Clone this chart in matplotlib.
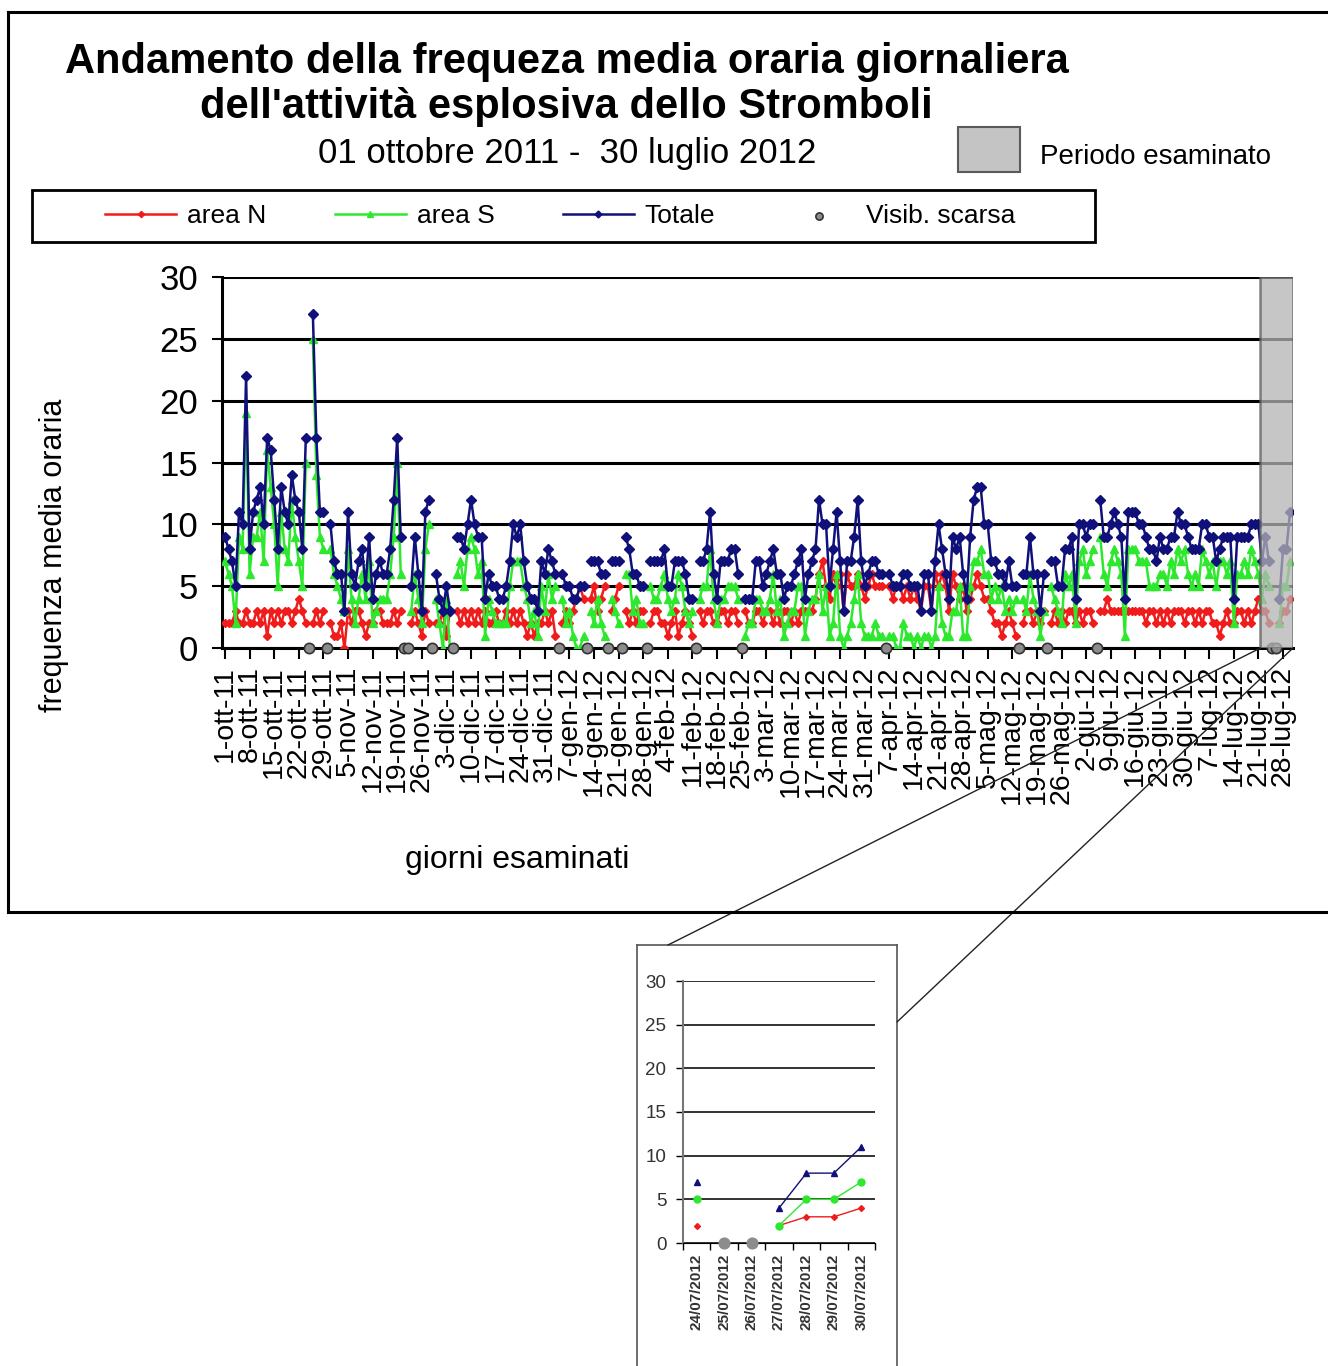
import numpy as np
import matplotlib.pyplot as plt
from matplotlib.patches import Rectangle, ConnectionPatch
from matplotlib.lines import Line2D

plt.rcParams['font.family'] = ['Liberation Sans', 'DejaVu Sans']

# frequenza media oraria giornaliera, 01/10/2011 - 30/07/2012 (None = visibilita' scarsa)
area_n = [2, 2, 2, 3, 2, 2, 3, 2, 2, 3,
          2, 3, 1, 3, 2, 3, 2, 3, 3, 2,
          3, 4, 3, 2, None, 2, 3, 2, 3, None,
          2, 1, 1, 2, 0, 3, 2, 3, 3, 2,
          1, 2, 2, 3, 3, 2, 2, 2, 3, 2,
          3, None, None, 2, 3, 2, 1, 3, 2, None,
          2, 2, 3, 1, 3, None, 3, 2, 3, 2,
          3, 2, 3, 2, 3, 2, 2, 3, 2, 2,
          3, 2, 3, 2, 3, 2, 1, 2, 1, 2,
          2, 3, 2, 3, 1, None, 2, 3, 2, 3,
          4, 5, 4, None, 4, 5, 3, 4, 5, None,
          3, 4, 5, None, 3, 2, 3, 2, 3, 3,
          None, 2, 3, 3, 2, 2, 1, 2, 3, 1,
          2, 3, 2, 1, None, 3, 2, 3, 3, 2,
          2, 3, 3, 2, 3, 3, 2, None, 3, 2,
          2, 3, 3, 2, 3, 3, 2, 3, 2, 3,
          3, 2, 3, 2, 3, 3, 3, 3, 4, 6,
          7, 5, 4, 6, 5, 6, 3, 6, 5, 5,
          6, 5, 4, 5, 6, 5, 5, 5, None, 5,
          4, 5, 5, 4, 5, 4, 5, 4, 3, 5,
          5, 3, 6, 5, 6, 5, 3, 6, 5, 4,
          5, 3, 4, 5, 6, 5, 4, 4, 3, 2,
          2, 1, 2, 3, 2, 1, None, 2, 3, 3,
          2, 3, 2, 3, None, 2, 3, 2, 3, 2,
          3, 3, 2, 3, 2, 3, 3, 2, None, 3,
          3, 4, 3, 3, 3, 3, 3, 3, 3, 3,
          3, 3, 2, 3, 3, 2, 3, 2, 3, 2,
          3, 3, 3, 2, 3, 3, 2, 3, 2, 3,
          3, 2, 2, 1, 2, 3, 2, 2, 3, 3,
          2, 3, 2, 3, 4, 3, 3, 2, None, None,
          2, 3, 3, 4]

area_s = [7, 6, 5, 2, 9, 8, 19, 6, 9, 9,
          11, 7, 16, 13, 10, 5, 11, 8, 7, 12,
          9, 7, 5, 15, None, 25, 14, 9, 8, None,
          8, 6, 5, 4, 3, 8, 4, 2, 4, 6,
          4, 7, 2, 3, 4, 4, 4, 6, 9, 15,
          6, None, None, 3, 6, 4, 2, 8, 10, None,
          4, 2, 0, 4, 0, None, 6, 7, 5, 8,
          9, 8, 6, 7, 1, 4, 3, 2, 2, 2,
          2, 5, 7, 7, 7, 5, 4, 2, 3, 1,
          5, 3, 6, 4, 5, None, 4, 2, 3, 1,
          0, 0, 1, None, 3, 2, 4, 2, 1, None,
          4, 3, 2, None, 6, 6, 3, 4, 2, 2,
          None, 5, 4, 4, 5, 6, 4, 3, 4, 6,
          5, 3, 2, 3, None, 4, 5, 5, 8, 4,
          2, 4, 4, 5, 5, 5, 4, None, 1, 2,
          2, 4, 4, 3, 3, 4, 6, 3, 4, 1,
          2, 3, 3, 5, 5, 1, 3, 4, 4, 6,
          3, 5, 1, 2, 6, 1, 0, 1, 2, 4,
          6, 2, 1, 1, 1, 2, 1, 1, None, 1,
          1, 0, 0, 2, 1, 1, 0, 1, 0, 1,
          1, 0, 1, 5, 2, 1, 1, 3, 3, 5,
          1, 1, 5, 7, 7, 8, 6, 6, 4, 5,
          4, 5, 3, 4, 3, 4, None, 4, 3, 6,
          4, 3, 1, 3, None, 5, 4, 3, 2, 6,
          5, 6, 2, 7, 8, 6, 7, 8, None, 9,
          6, 5, 7, 8, 7, 6, 1, 8, 8, 8,
          7, 7, 7, 5, 5, 5, 6, 6, 5, 7,
          6, 8, 7, 8, 6, 5, 6, 5, 8, 7,
          6, 7, 5, 7, 7, 6, 7, 2, 6, 6,
          7, 6, 8, 7, 6, 4, 6, 5, None, None,
          2, 5, 5, 7]

totale = [9, 8, 7, 5, 11, 10, 22, 8, 11, 12,
          13, 10, 17, 16, 12, 8, 13, 11, 10, 14,
          12, 11, 8, 17, None, 27, 17, 11, 11, None,
          10, 7, 6, 6, 3, 11, 6, 5, 7, 8,
          5, 9, 4, 6, 7, 6, 6, 8, 12, 17,
          9, None, None, 5, 9, 6, 3, 11, 12, None,
          6, 4, 3, 5, 3, None, 9, 9, 8, 10,
          12, 10, 9, 9, 4, 6, 5, 5, 4, 4,
          5, 7, 10, 9, 10, 7, 5, 4, 4, 3,
          7, 6, 8, 7, 6, None, 6, 5, 5, 4,
          4, 5, 5, None, 7, 7, 7, 6, 6, None,
          7, 7, 7, None, 9, 8, 6, 6, 5, 5,
          None, 7, 7, 7, 7, 8, 5, 5, 7, 7,
          7, 6, 4, 4, None, 7, 7, 8, 11, 6,
          4, 7, 7, 7, 8, 8, 6, None, 4, 4,
          4, 7, 7, 5, 6, 7, 8, 6, 6, 4,
          5, 5, 6, 7, 8, 4, 6, 7, 8, 12,
          10, 10, 5, 8, 11, 7, 3, 7, 7, 9,
          12, 7, 5, 6, 7, 7, 6, 6, None, 6,
          5, 5, 5, 6, 6, 5, 5, 5, 3, 6,
          6, 3, 7, 10, 8, 6, 4, 9, 8, 9,
          6, 4, 9, 12, 13, 13, 10, 10, 7, 7,
          6, 6, 5, 7, 5, 5, None, 6, 6, 9,
          6, 6, 3, 6, None, 7, 7, 5, 5, 8,
          8, 9, 4, 10, 10, 9, 10, 10, None, 12,
          9, 9, 10, 11, 10, 9, 4, 11, 11, 11,
          10, 10, 9, 8, 8, 7, 9, 8, 8, 9,
          9, 11, 10, 10, 9, 8, 8, 8, 10, 10,
          9, 9, 7, 8, 9, 9, 9, 4, 9, 9,
          9, 9, 10, 10, 10, 7, 9, 7, None, None,
          4, 8, 8, 11]

etichette = ["1-ott-11", "8-ott-11", "15-ott-11", "22-ott-11", "29-ott-11",
             "5-nov-11", "12-nov-11", "19-nov-11", "26-nov-11",
             "3-dic-11", "10-dic-11", "17-dic-11", "24-dic-11", "31-dic-11",
             "7-gen-12", "14-gen-12", "21-gen-12", "28-gen-12",
             "4-feb-12", "11-feb-12", "18-feb-12", "25-feb-12",
             "3-mar-12", "10-mar-12", "17-mar-12", "24-mar-12", "31-mar-12",
             "7-apr-12", "14-apr-12", "21-apr-12", "28-apr-12",
             "5-mag-12", "12-mag-12", "19-mag-12", "26-mag-12",
             "2-giu-12", "9-giu-12", "16-giu-12", "23-giu-12", "30-giu-12",
             "7-lug-12", "14-lug-12", "21-lug-12", "28-lug-12"]

date_esaminate = ["24/07/2012", "25/07/2012", "26/07/2012", "27/07/2012",
                  "28/07/2012", "29/07/2012", "30/07/2012"]

N = np.array(area_n, dtype=float)
S = np.array(area_s, dtype=float)
T = np.array(totale, dtype=float)
giorni = np.arange(len(T))
scarsa = giorni[np.isnan(T)]
inizio = len(T) - len(date_esaminate)

rosso, verde, blu = '#f01c1c', '#2ee82e', '#10107a'

W, H = 1328, 1366
fig = plt.figure(figsize=(W / 100, H / 100), dpi=100)


def fx(px):
    return px / W


def fy(py):
    return 1 - py / H


# cornice esterna
for xs, ys in [((8, 1328), (12, 12)), ((8, 8), (12, 912)), ((8, 1328), (912, 912))]:
    fig.add_artist(Line2D([fx(v) for v in xs], [fy(v) for v in ys],
                          transform=fig.transFigure, color='black', lw=2.2))

# titolo
fig.text(fx(567), fy(62), "Andamento della frequeza media oraria giornaliera",
         ha='center', va='center', fontsize=30, fontweight='bold')
fig.text(fx(566), fy(107), "dell'attività esplosiva dello Stromboli",
         ha='center', va='center', fontsize=30, fontweight='bold')
fig.text(fx(567), fy(153), "01 ottobre 2011 -  30 luglio 2012",
         ha='center', va='center', fontsize=25)

# periodo esaminato
fig.add_artist(Rectangle((fx(958), fy(172)), 62 / W, 45 / H, transform=fig.transFigure,
                         facecolor='#c4c4c4', edgecolor='#5a5a5a', lw=1.5))
fig.text(fx(1040), fy(157), "Periodo esaminato", ha='left', va='center', fontsize=20)

# grafico principale
ax = fig.add_axes([fx(222), fy(648), 1071 / W, 371 / H])
ln, = ax.plot(giorni, N, color=rosso, lw=1.8, marker='D', ms=4.5, label='area N', zorder=3)
ls, = ax.plot(giorni, S, color=verde, lw=1.8, marker='^', ms=6, label='area S', zorder=4)
lt, = ax.plot(giorni, T, color=blu, lw=1.8, marker='D', ms=5, label='Totale', zorder=5)
sc = ax.scatter(scarsa, np.zeros(len(scarsa)), s=55, color='#8c8c8c', edgecolor='#333333',
                lw=1.2, zorder=6, clip_on=False, label='Visib. scarsa')
ax.axvspan(inizio - 2.4, len(T) - 0.15, facecolor='#b4b4b4', edgecolor='#5a5a5a',
           alpha=0.75, lw=1.8, zorder=7)

ax.set_xlim(-0.85, len(T) - 0.15)
ax.set_ylim(0, 30)
ax.set_yticks(range(0, 31, 5))
ax.set_xticks(np.arange(0, len(T), 7))
ax.set_xticklabels(etichette, rotation=90, fontsize=20.5, va='top', ha='center')
ax.tick_params(axis='y', labelsize=25, length=7, width=1.5, pad=10)
ax.tick_params(axis='x', length=8, width=1.5, pad=5)
ax.yaxis.grid(True, color='black', lw=2.2)
ax.set_axisbelow(True)
for side in ['top', 'right']:
    ax.spines[side].set_visible(False)
for side in ['left', 'bottom']:
    ax.spines[side].set_linewidth(2.2)
ax.set_ylabel("frequenza media oraria", fontsize=22)
ax.yaxis.set_label_coords(-0.143, 0.25)
ax.set_xlabel("giorni esaminati", fontsize=23)
ax.xaxis.set_label_coords((517 - 222) / 1071, -(845 - 648) / 371)

# legenda
fig.add_artist(Rectangle((fx(32), fy(242)), 1063 / W, 52 / H, transform=fig.transFigure,
                         facecolor='none', edgecolor='black', lw=2))
fig.legend(handles=[ln, ls, lt, sc], loc='center', bbox_to_anchor=(fx(560), fy(216)),
           ncol=4, frameon=False, fontsize=19, handlelength=2.7, handletextpad=0.4,
           columnspacing=2.6, scatterpoints=1, markerscale=0.7)

# dettaglio ultimi giorni
frame = fig.add_axes([fx(637), fy(1380), 260 / W, 435 / H])
frame.set_xticks([])
frame.set_yticks([])
for sp in frame.spines.values():
    sp.set_color('#555555')
    sp.set_linewidth(1.2)

ins = fig.add_axes([fx(683), fy(1243), 192 / W, 262 / H])
k = slice(inizio, None)
xi = np.arange(len(date_esaminate))
ins.plot(xi, N[k], color=rosso, lw=1, marker='D', ms=3, zorder=3)
ins.plot(xi, S[k], color=verde, lw=1, marker='o', ms=5, zorder=4)
ins.plot(xi, T[k], color=blu, lw=1, marker='^', ms=4, zorder=5)
buchi = xi[np.isnan(T[k])]
ins.scatter(buchi, np.zeros(len(buchi)), s=60, color='#8c8c8c', zorder=6, clip_on=False)
ins.set_xlim(-0.5, len(xi) - 0.5)
ins.set_ylim(0, 30)
ins.set_yticks(range(0, 31, 5))
ins.set_xticks(xi)
ins.set_xticklabels(date_esaminate, rotation=90, fontsize=11, color='#333333',
                    fontweight='bold')
ins.set_xticks(np.arange(-0.5, len(xi)), minor=True)
ins.tick_params(axis='x', which='major', length=0, pad=8)
ins.tick_params(axis='x', which='minor', length=5, width=1)
ins.tick_params(axis='y', labelsize=13.5, labelcolor='#333333', length=5, width=1, pad=7)
ins.yaxis.grid(True, color='#222222', lw=1.3)
ins.set_axisbelow(True)
for side in ['top', 'right']:
    ins.spines[side].set_visible(False)
ins.spines['left'].set_color('#777777')
ins.spines['left'].set_linewidth(1.5)

# linee di collegamento
for xa, xb in [((inizio - 2.4, 0), ((668 - 637) / 260, 1)),
               ((len(T) - 0.15, 0), (1, 1 - (1022 - 945) / 435))]:
    fig.add_artist(ConnectionPatch(xyA=xa, coordsA=ax.transData, xyB=xb,
                                   coordsB=frame.transAxes, color='#222222', lw=1))

fig.savefig('out.png', dpi=100)
